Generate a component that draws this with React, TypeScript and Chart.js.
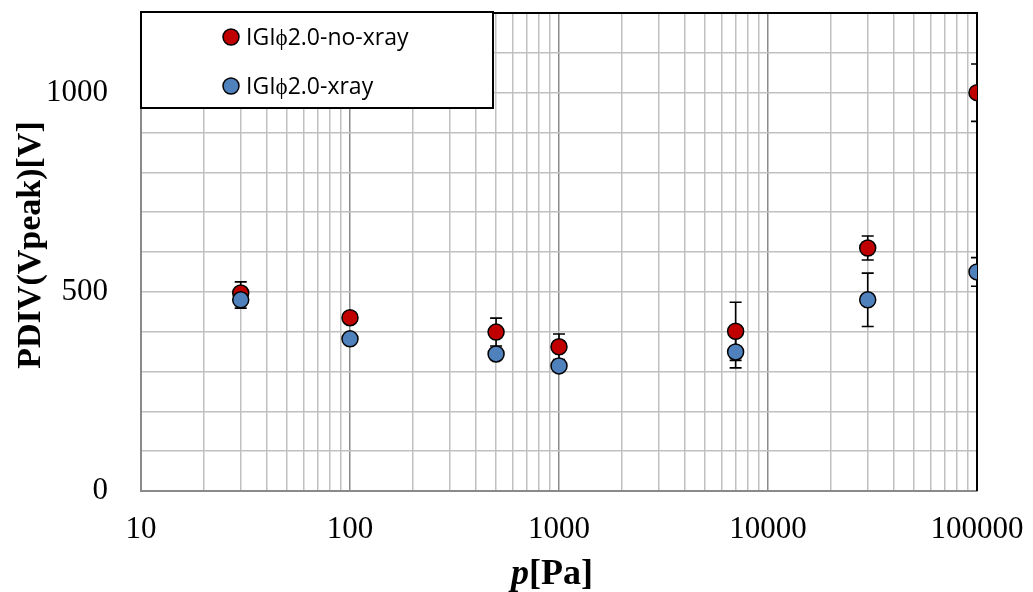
import React, { useEffect, useRef } from "react";
import { Chart, registerables } from "chart.js";

Chart.register(...registerables);

// Measurement pressures [Pa]
const pressures = [30, 100, 500, 1000, 7000, 30000, 100000];

// PDIV without x-ray irradiation [Vpeak] and its error half-widths
const noXrayPdiv = [497, 435, 399, 362, 401, 610, 1000];
const noXrayErr = [28, 0, 35, 32, 73, 30, 72];

// PDIV with x-ray irradiation [Vpeak] and its error half-widths
const xrayPdiv = [480, 382, 344, 314, 349, 480, 550];
const xrayErr = [21, 0, 0, 0, 40, 67, 36];

// Labelled ticks
const xTickLabels = ["10", "100", "1000", "10000", "100000"];
const yTickLabels = ["0", "500", "1000"];

const seriesNames = ["IGIϕ2.0-no-xray", "IGIϕ2.0-xray"];
const seriesColors = ["#C00000", "#4F81BD"];

const W = 1033;
const H = 592;
const AREA = { left: 141, right: 977, top: 13, bottom: 491 };

const errorBars = {
  id: "errorBars",
  beforeDatasetsDraw(chart: any) {
    const { ctx, chartArea, scales } = chart;
    const sets = [
      { vals: noXrayPdiv, errs: noXrayErr },
      { vals: xrayPdiv, errs: xrayErr },
    ];
    ctx.save();
    ctx.beginPath();
    ctx.rect(chartArea.left, chartArea.top, chartArea.right - chartArea.left, chartArea.bottom - chartArea.top);
    ctx.clip();
    ctx.strokeStyle = "#000";
    ctx.lineWidth = 1.6;
    sets.forEach(({ vals, errs }) => {
      vals.forEach((v, i) => {
        const e = errs[i];
        if (!e) return;
        const x = scales.x.getPixelForValue(pressures[i]);
        const y1 = scales.y.getPixelForValue(v + e);
        const y2 = scales.y.getPixelForValue(v - e);
        ctx.beginPath();
        ctx.moveTo(x, y1);
        ctx.lineTo(x, y2);
        ctx.moveTo(x - 6, y1);
        ctx.lineTo(x + 6, y1);
        ctx.moveTo(x - 6, y2);
        ctx.lineTo(x + 6, y2);
        ctx.stroke();
      });
    });
    ctx.restore();
  },
};

const decorations = {
  id: "decorations",
  beforeDatasetsDraw(chart: any) {
    const { ctx, chartArea } = chart;
    ctx.save();
    ctx.strokeStyle = "#000";
    ctx.lineWidth = 2;
    ctx.beginPath();
    ctx.moveTo(chartArea.left, chartArea.top);
    ctx.lineTo(chartArea.right, chartArea.top);
    ctx.lineTo(chartArea.right, chartArea.bottom);
    ctx.stroke();
    ctx.restore();
  },
  afterDraw(chart: any) {
    const { ctx, chartArea } = chart;
    ctx.save();
    // legend box
    const lx = chartArea.left;
    const ly = 12;
    const lw = 352;
    const lh = 96;
    ctx.fillStyle = "#fff";
    ctx.fillRect(lx, ly, lw, lh);
    ctx.strokeStyle = "#000";
    ctx.lineWidth = 2;
    ctx.strokeRect(lx, ly, lw, lh);
    ctx.font = '23px "Open Sans"';
    ctx.textBaseline = "middle";
    ctx.textAlign = "left";
    const rows = [37, 86];
    seriesNames.forEach((name, i) => {
      ctx.beginPath();
      ctx.arc(231, rows[i], 8, 0, Math.PI * 2);
      ctx.fillStyle = seriesColors[i];
      ctx.fill();
      ctx.lineWidth = 1.5;
      ctx.strokeStyle = "#000";
      ctx.stroke();
      ctx.fillStyle = "#000";
      ctx.fillText(name, 246, rows[i] + 1);
    });

    // x axis title: p[Pa]
    ctx.textBaseline = "alphabetic";
    ctx.fillStyle = "#000";
    const italic = 'italic bold 36px "Liberation Serif"';
    const bold = 'bold 36px "Liberation Serif"';
    ctx.font = italic;
    const pw = ctx.measureText("p").width;
    ctx.font = bold;
    const rw = ctx.measureText("[Pa]").width;
    const startX = 552 - (pw + rw) / 2;
    ctx.font = italic;
    ctx.fillText("p", startX, 584);
    ctx.font = bold;
    ctx.fillText("[Pa]", startX + pw, 584);

    // y axis title
    ctx.translate(31, 245);
    ctx.rotate(-Math.PI / 2);
    ctx.textAlign = "center";
    ctx.textBaseline = "middle";
    ctx.font = 'bold 34px "Liberation Serif"';
    ctx.fillText("PDIV(Vpeak)[V]", 0, 0);
    ctx.restore();
  },
};

export default function App() {
  const ref = useRef<HTMLCanvasElement>(null);

  useEffect(() => {
    document.body.style.margin = "0";
    const canvas = ref.current!;
    const xTicks: number[] = [];
    for (let d = 10; d < 100000; d *= 10) {
      for (let m = 1; m <= 9; m++) xTicks.push(d * m);
    }
    xTicks.push(100000);

    const chart = new Chart(canvas, {
      type: "scatter",
      data: {
        datasets: [
          {
            label: seriesNames[0],
            data: pressures.map((p, i) => ({ x: p, y: noXrayPdiv[i] })),
            backgroundColor: seriesColors[0],
            borderColor: "#000",
            borderWidth: 1.5,
            pointRadius: 8,
            order: 1,
          },
          {
            label: seriesNames[1],
            data: pressures.map((p, i) => ({ x: p, y: xrayPdiv[i] })),
            backgroundColor: seriesColors[1],
            borderColor: "#000",
            borderWidth: 1.5,
            pointRadius: 8,
            order: 0,
          },
        ],
      },
      options: {
        responsive: false,
        animation: false,
        layout: { padding: { left: 0, right: W - AREA.right, top: AREA.top, bottom: 0 } },
        plugins: {
          legend: { display: false },
          tooltip: { enabled: false },
        },
        elements: { point: { hoverRadius: 8 } },
        scales: {
          x: {
            type: "logarithmic",
            min: 10,
            max: 100000,
            afterBuildTicks: (scale: any) => {
              scale.ticks = xTicks.map((v) => ({ value: v }));
            },
            afterFit: (scale: any) => {
              scale.height = H - AREA.bottom;
              scale.paddingLeft = 0;
              scale.paddingRight = 0;
              scale.paddingTop = 0;
              scale.paddingBottom = 0;
            },
            grid: {
              drawTicks: false,
              lineWidth: 1.5,
              color: (c: any) => {
                const v = c.tick ? c.tick.value : 0;
                return xTickLabels.includes(String(v)) ? "#8a8a8a" : "#c0c0c0";
              },
            },
            border: { color: "#8a8a8a", width: 2 },
            ticks: {
              autoSkip: false,
              maxRotation: 0,
              padding: 20,
              color: "#000",
              font: { family: "Liberation Serif", size: 31 },
              callback: (v: any) => (xTickLabels.includes(String(v)) ? String(v) : ""),
            },
          },
          y: {
            min: 0,
            max: 1200,
            afterFit: (scale: any) => {
              scale.width = AREA.left;
              scale.paddingLeft = 0;
              scale.paddingRight = 0;
              scale.paddingTop = 0;
              scale.paddingBottom = 0;
            },
            grid: {
              drawTicks: false,
              lineWidth: 1.5,
              color: "#c0c0c0",
            },
            border: { color: "#8a8a8a", width: 2 },
            ticks: {
              stepSize: 100,
              autoSkip: false,
              padding: 33,
              color: "#000",
              font: { family: "Liberation Serif", size: 31 },
              callback: (v: any) => (yTickLabels.includes(String(v)) ? String(v) : ""),
            },
          },
        },
      },
      plugins: [errorBars, decorations],
    });
    return () => chart.destroy();
  }, []);

  return (
    <div style={{ position: "absolute", left: 0, top: 0, width: W, height: H, background: "#fff" }}>
      <canvas ref={ref} width={W} height={H} style={{ display: "block" }} />
    </div>
  );
}
